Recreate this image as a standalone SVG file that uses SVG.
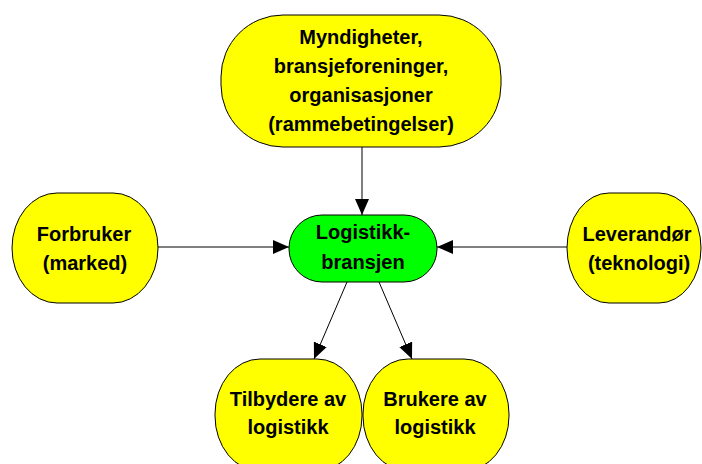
<svg xmlns="http://www.w3.org/2000/svg" width="702" height="464" viewBox="0 0 702 464">
  <defs>
    <style>
      .node { stroke: #000; stroke-width: 1; }
      .yellow { fill: #ffff00; }
      .green { fill: #00ff00; }
      .label { font-family: "Liberation Sans", Arial, sans-serif; font-weight: bold; font-size: 20px; fill: #000; text-anchor: middle; }
      .edge { stroke: #000; stroke-width: 1; fill: none; marker-end: url(#arrow); }
    </style>
    <marker id="arrow" viewBox="0 0 16 14" refX="16" refY="7" markerWidth="16" markerHeight="14" markerUnits="userSpaceOnUse" orient="auto">
      <path d="M0,0 L16,7 L0,14 Z" fill="#000"/>
    </marker>
  </defs>
  <rect width="702" height="464" fill="#fff"/>

  <g id="connectors">
    <line class="edge" x1="362" y1="147" x2="362" y2="215"/>
    <line class="edge" x1="158" y1="247" x2="289" y2="247"/>
    <line class="edge" x1="567" y1="247" x2="437" y2="247"/>
    <line class="edge" x1="347" y1="282" x2="314" y2="359"/>
    <line class="edge" x1="379" y1="282" x2="412" y2="359"/>
  </g>

  <g id="myndigheter">
    <rect class="node yellow" x="221" y="15" width="280" height="132" rx="62" ry="62"/>
    <text class="label" x="361" y="44">Myndigheter,</text>
    <text class="label" x="361" y="73">bransjeforeninger,</text>
    <text class="label" x="361" y="102">organisasjoner</text>
    <text class="label" x="361" y="131">(rammebetingelser)</text>
  </g>

  <g id="logistikkbransjen">
    <rect class="node green" x="289" y="215" width="148" height="67" rx="33" ry="33"/>
    <text class="label" x="363" y="239">Logistikk-</text>
    <text class="label" x="363" y="269">bransjen</text>
  </g>

  <g id="forbruker">
    <rect class="node yellow" x="12" y="193" width="146" height="110" rx="45" ry="55"/>
    <text class="label" x="84" y="241">Forbruker</text>
    <text class="label" x="85" y="270">(marked)</text>
  </g>

  <g id="leverandor">
    <rect class="node yellow" x="567" y="193" width="134" height="110" rx="42" ry="55"/>
    <text class="label" x="637" y="241">Leverandør</text>
    <text class="label" x="639" y="270">(teknologi)</text>
  </g>

  <g id="tilbydere">
    <rect class="node yellow" x="215" y="359" width="147" height="112" rx="45" ry="55"/>
    <text class="label" x="288" y="406">Tilbydere av</text>
    <text class="label" x="288" y="434">logistikk</text>
  </g>

  <g id="brukere">
    <rect class="node yellow" x="363" y="359" width="146" height="112" rx="45" ry="55"/>
    <text class="label" x="435" y="406">Brukere av</text>
    <text class="label" x="435" y="434">logistikk</text>
  </g>
</svg>
